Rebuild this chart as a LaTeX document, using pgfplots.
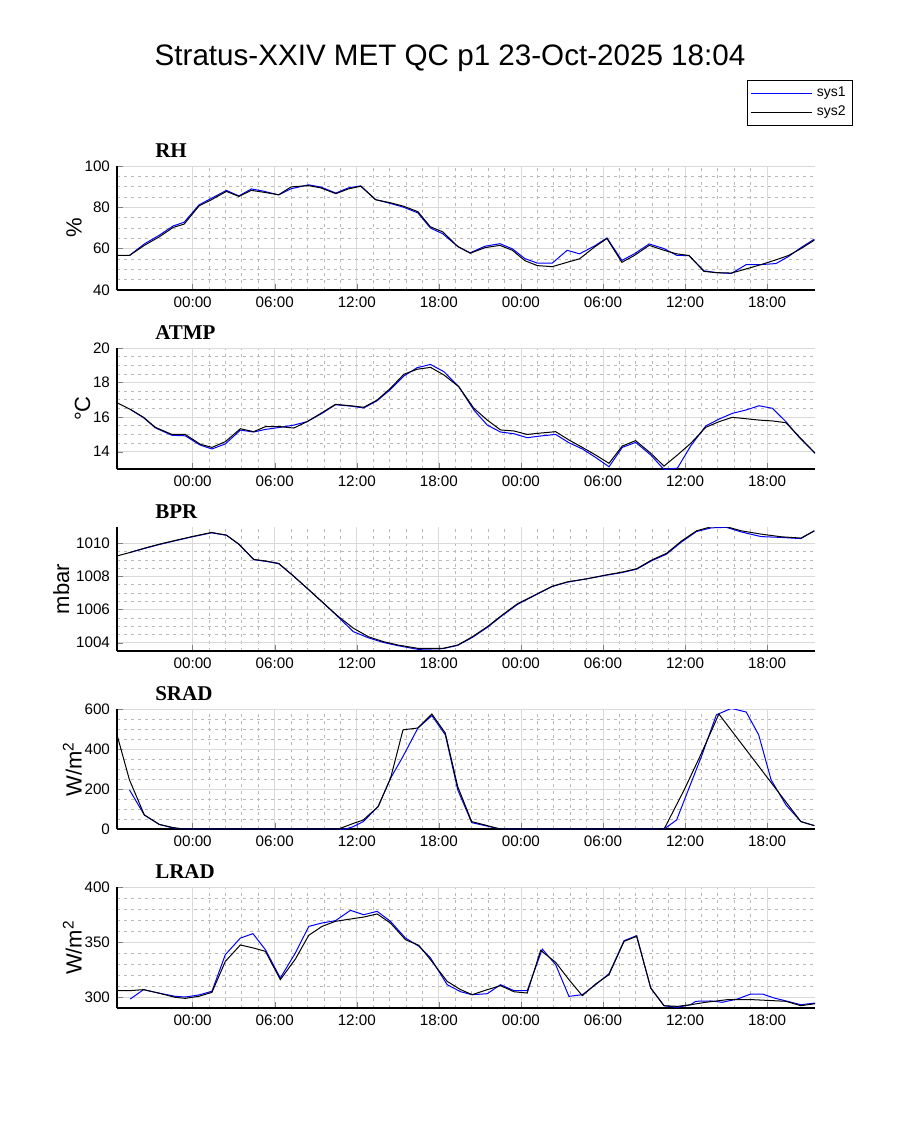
\documentclass[border=0pt]{standalone}
\usepackage{pgfplots}
\pgfplotsset{compat=1.18}
\usepackage{fontspec}
\setmainfont{Liberation Sans}
\newfontfamily\panelfont{Liberation Serif}

\definecolor{sysblue}{RGB}{0,0,255}

\pgfplotsset{
  met/.style={
    scale only axis, width=349pt,
    xmin=-5.53, xmax=45.5,
    xtick={0,6,...,42},
    xticklabels={00:00,06:00,12:00,18:00,00:00,06:00,12:00,18:00},
    minor x tick num=4,
    axis lines=left, axis line style={-, line width=0.6pt},
    tick align=inside, major tick length=3pt, minor tick length=0pt,
    grid=both,
    major grid style={gray!30, line width=0.4pt},
    minor grid style={gray!55, line width=0.4pt, dash pattern=on 1.5pt off 2pt},
    tick label style={font=\fontsize{7.6}{9}\selectfont},
    ylabel style={font=\fontsize{11}{12}\selectfont},
    ylabel shift=-5.5pt,
    title style={at={(0.05,1)}, anchor=south west, inner sep=1.5pt, yshift=-3.5pt,
      font=\panelfont\bfseries\fontsize{10.5}{12}\selectfont},
    /pgf/number format/assume math mode=true,
    /pgf/number format/set thousands separator={},
    every axis plot/.append style={line width=0.5pt, no markers},
  },
}

\begin{document}
\begin{tikzpicture}
\path (0,0) rectangle (450pt,-562.5pt);
\node[font=\fontsize{14.8}{17}\selectfont] at (225pt,-29pt) {Stratus-XXIV MET QC p1 23-Oct-2025 18:04};

% RH
\begin{axis}[met, at={(58.5pt,-83pt)}, anchor=north west, height=62pt,
  ymin=40, ymax=100, ytick={40,60,80,100}, minor y tick num=3,
  ylabel={\%}, title={RH},
  legend image post style={xscale=1.8},
  legend style={at={(1.0544,1.694)}, anchor=north east, draw=black,
    font=\fontsize{7}{8}\selectfont, inner sep=1.5pt, row sep=-1pt}]
\addplot[draw=sysblue] coordinates {(-4.62,56.7) (-3.53,62.3) (-2.44,66.5) (-1.42,71) (-0.62,72.8) (0.47,81.2) (1.38,84.4) (2.47,88.2) (3.38,85.5) (4.29,88.9) (5.2,87.8) (6.29,86.0) (7.2,89.0) (8.47,90.9) (9.38,89.8) (10.47,86.9) (11.38,89.4) (12.29,90.4) (13.38,83.7) (14.4,82.0) (15.4,80.1) (16.47,77.3) (17.38,70.0) (18.29,67.2) (19.38,61.0) (20.29,58.0) (21.38,61.2) (22.47,62.4) (23.38,59.9) (24.29,55.2) (25.2,53.0) (26.29,53.0) (27.38,59.2) (28.29,57.5) (29.38,61.3) (30.29,65.2) (31.38,54.3) (32.29,57.5) (33.38,62.3) (34.47,60.0) (35.38,56.8) (36.29,56.6) (37.38,49.3) (38.29,48.4) (39.38,48.0) (40.47,52.3) (41.56,52.3) (42.65,52.8) (43.56,56.2) (44.47,60.5) (45.45,64.6)};
\addplot[draw=black] coordinates {(-5.53,56.7) (-4.62,56.7) (-3.53,61.6) (-2.44,65.7) (-1.42,70.3) (-0.62,71.9) (0.47,80.7) (1.38,83.7) (2.47,87.7) (3.38,85.3) (4.29,88.2) (5.2,87.3) (6.29,86.1) (7.2,89.9) (8.47,90.5) (9.38,89.4) (10.47,86.6) (11.38,88.9) (12.29,90.2) (13.38,83.7) (14.4,82.3) (15.4,80.6) (16.47,77.9) (17.38,70.6) (18.29,68.1) (19.38,61.1) (20.29,57.8) (21.38,60.5) (22.47,61.6) (23.38,59.2) (24.29,54.2) (25.2,51.8) (26.29,51.3) (27.38,53.4) (28.29,55.1) (29.38,60.8) (30.29,64.9) (31.38,53.4) (32.29,56.7) (33.38,61.6) (34.47,59.2) (35.38,57.5) (36.29,56.7) (37.38,49.0) (38.29,48.4) (39.38,48.2) (40.47,50.2) (41.56,52.3) (42.65,54.6) (43.56,56.7) (44.47,60.0) (45.45,64.1)};
\legend{sys1,sys2}
\end{axis}

% ATMP
\begin{axis}[met, at={(58.5pt,-174pt)}, anchor=north west, height=60.5pt,
  ymin=13, ymax=20, ytick={14,16,18,20}, minor y tick num=3,
  ylabel={°C}, title={ATMP}]
\addplot[draw=sysblue] coordinates {(-4.56,16.45) (-3.59,15.97) (-2.73,15.38) (-1.51,14.95) (-0.54,14.92) (0.56,14.38) (1.41,14.16) (2.39,14.45) (3.49,15.25) (4.46,15.14) (5.32,15.29) (6.41,15.41) (7.39,15.54) (8.37,15.74) (9.46,16.22) (10.44,16.72) (11.54,16.64) (12.51,16.53) (13.49,16.95) (14.46,17.6) (15.44,18.38) (16.41,18.86) (17.39,19.05) (18.37,18.63) (19.46,17.76) (20.56,16.41) (21.54,15.54) (22.51,15.14) (23.49,15.04) (24.46,14.81) (25.44,14.91) (26.54,15.0) (27.51,14.52) (28.49,14.16) (29.46,13.67) (30.44,13.13) (31.41,14.25) (32.39,14.54) (33.49,13.81) (34.46,12.97) (35.44,13.05) (36.41,14.33) (37.51,15.49) (38.49,15.89) (39.46,16.22) (40.44,16.41) (41.41,16.66) (42.39,16.51) (43.37,15.74) (44.34,14.83) (45.51,13.91)};
\addplot[draw=black] coordinates {(-5.54,16.84) (-4.56,16.45) (-3.59,15.99) (-2.73,15.41) (-1.51,15.0) (-0.54,15.0) (0.56,14.43) (1.41,14.25) (2.39,14.58) (3.49,15.33) (4.46,15.16) (5.32,15.45) (6.41,15.45) (7.39,15.37) (8.37,15.74) (9.46,16.26) (10.44,16.74) (11.54,16.66) (12.51,16.57) (13.49,16.99) (14.46,17.67) (15.44,18.48) (16.41,18.77) (17.39,18.88) (18.37,18.44) (19.46,17.76) (20.56,16.51) (21.54,15.83) (22.51,15.26) (23.49,15.2) (24.46,15.0) (25.44,15.08) (26.54,15.16) (27.51,14.68) (28.49,14.25) (29.46,13.81) (30.44,13.33) (31.41,14.33) (32.39,14.64) (33.49,13.91) (34.46,13.17) (35.44,13.81) (36.41,14.48) (37.51,15.41) (38.49,15.74) (39.46,15.99) (40.44,15.91) (41.41,15.83) (42.39,15.78) (43.37,15.68) (44.34,14.87) (45.51,13.91)};
\end{axis}

% BPR
\begin{axis}[met, at={(58.5pt,-263.5pt)}, anchor=north west, height=62pt,
  ymin=1003.5, ymax=1011, ytick={1004,1006,1008,1010}, minor y tick num=3,
  ylabel={mbar}, ylabel shift=-3.5pt, title={BPR}]
\addplot[draw=sysblue] coordinates {(-4.62,1009.45) (-3.53,1009.7) (-2.44,1009.94) (-1.42,1010.14) (0,1010.41) (1.38,1010.65) (2.47,1010.5) (3.38,1009.96) (4.47,1009.02) (5.38,1008.92) (6.29,1008.78) (7.38,1008.03) (8.47,1007.22) (9.56,1006.4) (10.65,1005.55) (11.75,1004.67) (12.84,1004.3) (13.93,1004.02) (15.02,1003.82) (16.47,1003.6) (18.29,1003.64) (19.38,1003.84) (20.47,1004.33) (21.56,1004.94) (22.65,1005.65) (23.75,1006.32) (24.84,1006.79) (26.29,1007.4) (27.38,1007.66) (28.84,1007.87) (30.29,1008.09) (31.38,1008.24) (32.47,1008.45) (33.56,1008.96) (34.65,1009.36) (35.75,1010.1) (36.84,1010.73) (37.93,1010.95) (39.02,1010.98) (40.11,1010.7) (41.56,1010.42) (43.02,1010.37) (44.47,1010.3) (45.45,1010.77)};
\addplot[draw=black] coordinates {(-5.53,1009.25) (-4.62,1009.45) (-3.53,1009.72) (-2.44,1009.96) (-1.42,1010.16) (0,1010.43) (1.38,1010.67) (2.47,1010.51) (3.38,1009.96) (4.47,1009.04) (5.38,1008.94) (6.29,1008.8) (7.38,1008.03) (8.47,1007.22) (9.56,1006.4) (10.65,1005.59) (11.75,1004.88) (12.84,1004.37) (13.93,1004.07) (15.02,1003.86) (16.47,1003.66) (18.29,1003.66) (19.38,1003.86) (20.47,1004.37) (21.56,1004.98) (22.65,1005.69) (23.75,1006.36) (24.84,1006.81) (26.29,1007.42) (27.38,1007.68) (28.84,1007.87) (30.29,1008.11) (31.38,1008.27) (32.47,1008.48) (33.56,1009.0) (34.65,1009.41) (35.75,1010.16) (36.84,1010.77) (37.93,1011.02) (39.02,1011.02) (40.11,1010.77) (41.56,1010.57) (43.02,1010.41) (44.47,1010.33) (45.45,1010.77)};
\end{axis}

% SRAD
\begin{axis}[met, at={(58.5pt,-354.5pt)}, anchor=north west, height=60pt,
  ymin=0, ymax=600, ytick={0,200,400,600}, minor y tick num=3,
  ylabel={W/m\textsuperscript{2}}, title={SRAD}]
\addplot[draw=sysblue] coordinates {(-4.62,196) (-3.53,70) (-2.44,23) (-1.42,5) (-0.62,0) (11.2,0) (11.75,12) (12.47,37) (13.56,112) (14.47,254) (15.38,363) (16.47,505) (17.49,567) (18.47,471) (19.38,196) (20.4,32) (21.38,17) (22.29,3) (22.9,0) (34.47,0) (35.38,45) (36.0,154) (37.2,363) (38.29,571) (39.38,603) (40.47,585) (41.38,471) (42.29,246) (43.38,120) (44.47,37) (45.45,17)};
\addplot[draw=black] coordinates {(-5.53,471) (-4.62,246) (-3.53,70) (-2.44,23) (-1.42,7) (-0.62,0) (10.65,0) (11.75,28) (12.47,45) (13.56,112) (14.47,254) (15.38,496) (16.47,505) (17.49,575) (18.47,480) (19.38,212) (20.4,37) (21.38,20) (22.29,3) (22.9,0) (34.47,0) (35.93,195) (37.2,379) (38.47,575) (44.47,37) (45.45,17)};
\end{axis}

% LRAD
\begin{axis}[met, at={(58.5pt,-443.5pt)}, anchor=north west, height=60.5pt,
  ymin=290, ymax=400, ytick={300,350,400}, minor y tick num=4,
  ylabel={W/m\textsuperscript{2}}, title={LRAD}]
\addplot[draw=sysblue] coordinates {(-4.56,298.2) (-3.59,306.7) (-2.49,303.6) (-1.27,300.6) (-0.54,300.0) (0.44,301.8) (1.41,305.2) (2.39,338.5) (3.49,353.6) (4.41,357.6) (5.32,343.0) (6.41,317.3) (7.51,340.0) (8.49,364.2) (9.46,367.3) (10.44,369.4) (11.54,378.8) (12.51,374.8) (13.49,377.9) (14.46,368.8) (15.56,353.6) (16.54,346.1) (17.39,335.5) (18.61,311.2) (19.59,304.8) (20.44,302.1) (21.54,303.0) (22.51,311.2) (23.49,305.8) (24.46,305.8) (25.56,343.6) (26.54,329.4) (27.51,300.6) (28.49,302.1) (29.46,311.2) (30.44,321.2) (31.54,351.2) (32.46,355.8) (33.49,308.2) (34.46,292.1) (35.44,290.6) (36.41,293.0) (36.78,296.1) (37.88,296.4) (38.73,295.2) (39.83,298.2) (40.8,302.7) (41.66,302.7) (42.51,299.1) (43.49,296.1) (44.46,293.0) (45.51,294.5)};
\addplot[draw=black] coordinates {(-5.54,305.8) (-4.56,305.8) (-3.59,306.7) (-2.49,303.6) (-1.27,299.7) (-0.54,298.8) (0.44,300.6) (1.41,304.2) (2.39,332.4) (3.49,347.3) (4.46,344.5) (5.32,341.5) (6.41,315.8) (7.51,334.5) (8.49,356.1) (9.46,364.2) (10.44,368.8) (11.54,370.9) (12.51,372.7) (13.49,375.5) (14.46,367.3) (15.56,352.1) (16.54,347.0) (17.39,333.9) (18.61,314.2) (19.59,306.7) (20.44,302.1) (21.54,306.7) (22.51,310.3) (23.49,304.8) (24.46,303.6) (25.44,342.4) (26.54,331.5) (27.51,315.8) (28.49,301.2) (29.46,311.8) (30.44,320.3) (31.54,350.6) (32.46,355.2) (33.49,308.2) (34.46,292.1) (35.44,291.5) (36.41,293.0) (37.51,295.2) (39.1,297.6) (40.93,297.6) (42.39,296.7) (43.37,296.1) (44.46,292.1) (45.51,293.9)};
\end{axis}
\end{tikzpicture}
\end{document}
